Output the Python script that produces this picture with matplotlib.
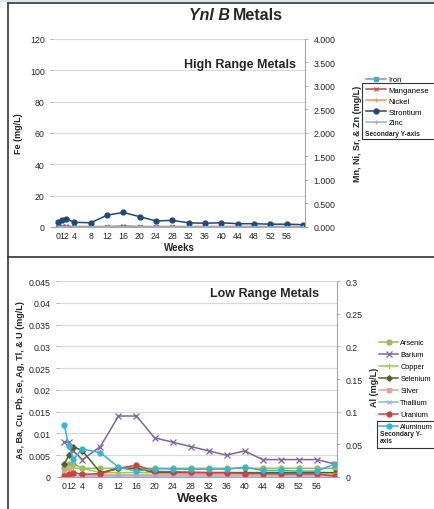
## Ynl B metals - two stacked excel style charts (high range / low range)

import matplotlib
matplotlib.use("Agg")
import matplotlib.pyplot as plt
from matplotlib.lines import Line2D
from matplotlib.patches import Rectangle
from matplotlib.ticker import FuncFormatter

plt.rcParams['font.family'] = ['Liberation Sans', 'DejaVu Sans']

W, H = 434, 510

weeks = [0, 1, 2, 4, 8, 12, 16, 20, 24, 28, 32, 36, 40, 44, 48, 52, 56, 60]
week_ticks = [0, 1, 2, 4, 8, 12, 16, 20, 24, 28, 32, 36, 40, 44, 48, 52, 56]

# high range (Fe on primary, the rest on secondary)
iron = [0.3, 0.3, 0.3, 0.3, 0.3, 0.3, 0.3, 0.3, 0.3, 0.3, 0.3, 0.3, 0.3, 0.3, 0.3, 0.3, 0.3, 0.3]
manganese = [0.01, 0.02, 0.02, 0.01, 0.01, 0.01, 0.02, 0.01, 0.01, 0.01, 0.01, 0.01, 0.01, 0.01, 0.01, 0.01, 0.01, 0.01]
nickel = [0.005] * 18
strontium = [0.10, 0.15, 0.17, 0.10, 0.09, 0.25, 0.31, 0.22, 0.13, 0.14, 0.09, 0.08, 0.09, 0.07, 0.07, 0.06, 0.06, 0.05]
zinc = [0.01] * 18

# low range (Al on secondary)
arsenic = [0.002, 0.003, 0.003, 0.002, 0.002, 0.002, 0.002, 0.002, 0.002, 0.002, 0.002, 0.002, 0.002, 0.002, 0.002, 0.002, 0.002, 0.002]
barium = [0.008, 0.008, 0.006, 0.004, 0.007, 0.014, 0.014, 0.009, 0.008, 0.007, 0.006, 0.005, 0.006, 0.004, 0.004, 0.004, 0.004, 0.003]
copper = [0.002, 0.002, 0.002, 0.002, 0.001, 0.001, 0.001, 0.001, 0.001, 0.001, 0.001, 0.001, 0.001, 0.001, 0.001, 0.001, 0.001, 0.001]
selenium = [0.003, 0.005, 0.007, 0.006, 0.001, 0.002, 0.002, 0.001, 0.001, 0.001, 0.001, 0.001, 0.001, 0.001, 0.001, 0.001, 0.001, 0.001]
silver = [0.001, 0.002, 0.001, 0.0005, 0.0005, 0.0005, 0.0005, 0.0005, 0.0005, 0.0005, 0.0005, 0.0005, 0.0005, 0.0005, 0.0005, 0.0005, 0.0005, 0.0005]
thallium = [0.0002] * 18
uranium = [0.0003, 0.0008, 0.001, 0.0006, 0.0008, 0.002, 0.0027, 0.0013, 0.0012, 0.0011, 0.001, 0.001, 0.0008, 0.0008, 0.0007, 0.0007, 0.0007, 0.0002]
aluminum = [0.079, 0.047, 0.027, 0.043, 0.037, 0.015, 0.009, 0.013, 0.012, 0.012, 0.012, 0.012, 0.015, 0.010, 0.010, 0.009, 0.009, 0.020]

GRID = '#d9d9d9'
AX = '#a6a6a6'
TXT = '#262626'


def px_axes(fig, x0, y0, x1, y1):
    # pixel box (top-left origin) -> figure axes
    return fig.add_axes([x0 / W, 1 - y1 / H, (x1 - x0) / W, (y1 - y0) / H])


def style(ax, ax2):
    for a in (ax, ax2):
        for s in a.spines.values():
            s.set_visible(False)
        a.tick_params(labelsize=6.3, colors=TXT, length=2.5, width=0.6)
        a.tick_params(axis='y', color=AX)
    ax2.spines['right'].set_visible(True)
    ax2.spines['right'].set_color(AX)
    ax.spines['bottom'].set_visible(True)
    ax.spines['bottom'].set_color(AX)
    ax.yaxis.grid(True, color=GRID, lw=0.8)
    ax.set_axisbelow(True)
    ax.set_xlim(-1.2, 60.5)
    ax.set_xticks(week_ticks)
    ax.set_xticklabels([str(w) for w in week_ticks])
    ax.tick_params(axis='x', length=0, pad=3)
    ax2.tick_params(axis='x', length=0)


def general(v, pos):
    s = ('%.3f' % v).rstrip('0').rstrip('.')
    return s


fig = plt.figure(figsize=(W / 100, H / 100), dpi=100)

# screenshot framing
fig.add_artist(Rectangle((0, 1 - 3 / H), 1, 3 / H, transform=fig.transFigure, color='#dde6ef', lw=0))
for (xa, ya, xb, yb) in [(8, 4, 8, 510), (8, 4, 434, 4), (8, 258, 434, 258)]:
    fig.add_artist(Line2D([xa / W, xb / W], [1 - ya / H, 1 - yb / H], transform=fig.transFigure,
                          color='#333333', lw=1.2))

# ---------------- high range ----------------
ax = px_axes(fig, 53, 40, 305, 228)
ax2 = ax.twinx()
style(ax, ax2)
ax.set_ylim(0, 120)
ax.set_yticks(range(0, 121, 20))
ax2.set_ylim(0, 4)
ax2.set_yticks([i * 0.5 for i in range(9)])
ax2.yaxis.set_major_formatter(FuncFormatter(lambda v, p: '%.3f' % v))

kw = dict(lw=1.1, ms=3.5)
h_fe, = ax.plot(weeks, iron, color='#4bacc6', marker='s', label='Iron', **kw)
h_mn, = ax2.plot(weeks, manganese, color='#c0504d', marker='x', label='Manganese', lw=1.1, ms=3.5, mew=0.8)
h_ni, = ax2.plot(weeks, nickel, color='#f79646', marker='+', label='Nickel', lw=1.1, ms=3.5, mew=0.8)
h_sr, = ax2.plot(weeks, strontium, color='#1f497d', marker='o', label='Strontium', **kw)
h_zn, = ax2.plot(weeks, zinc, color='#95b3d7', marker='+', label='Zinc', lw=1.1, ms=3.5, mew=0.8)

ax.set_ylabel('Fe (mg/L)', fontsize=6.5, fontweight='bold', color=TXT)
ax.yaxis.set_label_coords((23 - 53) / 252, 0.5)
ax2.set_ylabel('Mn, Ni, Sr, & Zn (mg/L)', fontsize=6.5, fontweight='bold', color=TXT)
ax2.yaxis.set_label_coords((353 - 53) / 252, 0.5)
ax.set_xlabel('Weeks', fontsize=7, fontweight='bold', color=TXT, labelpad=1)
ax.text(0.965, 0.865, 'High Range Metals', transform=ax.transAxes, ha='right', va='center',
        fontsize=9, fontweight='bold', color=TXT)

fig.text(230 / W, 1 - 16 / H, 'Ynl B', ha='right', va='center', fontsize=11.5,
         fontweight='bold', fontstyle='italic', color=TXT)
fig.text(233 / W, 1 - 16 / H, 'Metals', ha='left', va='center', fontsize=11.5,
         fontweight='bold', color=TXT)

fig.legend(handles=[h_fe, h_mn, h_ni, h_sr, h_zn], loc='upper left',
           bbox_to_anchor=(366 / W, 1 - 77 / H), frameon=False, fontsize=5.6,
           handlelength=2.6, handletextpad=0.3, labelspacing=0.42, borderpad=0, borderaxespad=0)
fig.add_artist(Rectangle((362 / W, 1 - 140 / H), 80 / W, 56 / H, transform=fig.transFigure,
                         fill=False, ec='#333333', lw=0.8))
fig.text(365 / W, 1 - 135 / H, 'Secondary Y-axis', fontsize=4.8, fontweight='bold',
         color=TXT, va='center')

# ---------------- low range ----------------
bx = px_axes(fig, 59, 282, 337, 478)
bx2 = bx.twinx()
style(bx, bx2)
bx.set_ylim(0, 0.045)
bx.set_yticks([i * 0.005 for i in range(10)])
bx.yaxis.set_major_formatter(FuncFormatter(general))
bx2.set_ylim(0, 0.3)
bx2.set_yticks([i * 0.05 for i in range(7)])
bx2.yaxis.set_major_formatter(FuncFormatter(general))

hs = []
hs += bx.plot(weeks, arsenic, color='#9bbb59', marker='o', label='Arsenic', **kw)
hs += bx.plot(weeks, barium, color='#8064a2', marker='x', label='Barium', lw=1.1, ms=4.5, mew=0.9)
hs += bx.plot(weeks, copper, color='#92d050', marker='|', label='Copper', lw=1.1, ms=4, mew=0.9)
hs += bx.plot(weeks, selenium, color='#4f6228', marker='D', label='Selenium', lw=1.1, ms=2.8)
hs += bx.plot(weeks, silver, color='#e6a0a0', marker='s', label='Silver', **kw)
hs += bx.plot(weeks, thallium, color='#8db4e2', marker='x', label='Thallium', lw=1.1, ms=3.5, mew=0.8)
hs += bx.plot(weeks, uranium, color='#d0403c', marker='o', label='Uranium', **kw)
hs += bx2.plot(weeks, aluminum, color='#31b6d6', marker='o', label='Aluminum', **kw)

bx.set_ylabel('As, Ba, Cu, Pb, Se, Ag, Tl, & U (mg/L)', fontsize=6.5, fontweight='bold', color=TXT)
bx.yaxis.set_label_coords((25 - 59) / 278, 0.5)
bx2.set_ylabel('Al (mg/L)', fontsize=6.5, fontweight='bold', color=TXT)
bx2.yaxis.set_label_coords((370 - 59) / 278, 0.46)
bx.set_xlabel('Weeks', fontsize=9.5, fontweight='bold', color=TXT, labelpad=1)
bx.text(0.935, 0.94, 'Low Range Metals', transform=bx.transAxes, ha='right', va='center',
        fontsize=9, fontweight='bold', color=TXT)

fig.legend(handles=hs, loc='upper left', bbox_to_anchor=(379 / W, 1 - 340 / H), frameon=False,
           fontsize=5.3, handlelength=2.6, handletextpad=0.3, labelspacing=0.66,
           borderpad=0, borderaxespad=0)
fig.add_artist(Rectangle((377 / W, 1 - 449 / H), 70 / W, 27 / H, transform=fig.transFigure,
                         fill=False, ec='#333333', lw=0.8))
fig.text(380 / W, 1 - 438 / H, 'Secondary Y-\naxis', fontsize=4.8, fontweight='bold',
         color=TXT, va='center', linespacing=1.0)

fig.savefig('out.png', dpi=100)
